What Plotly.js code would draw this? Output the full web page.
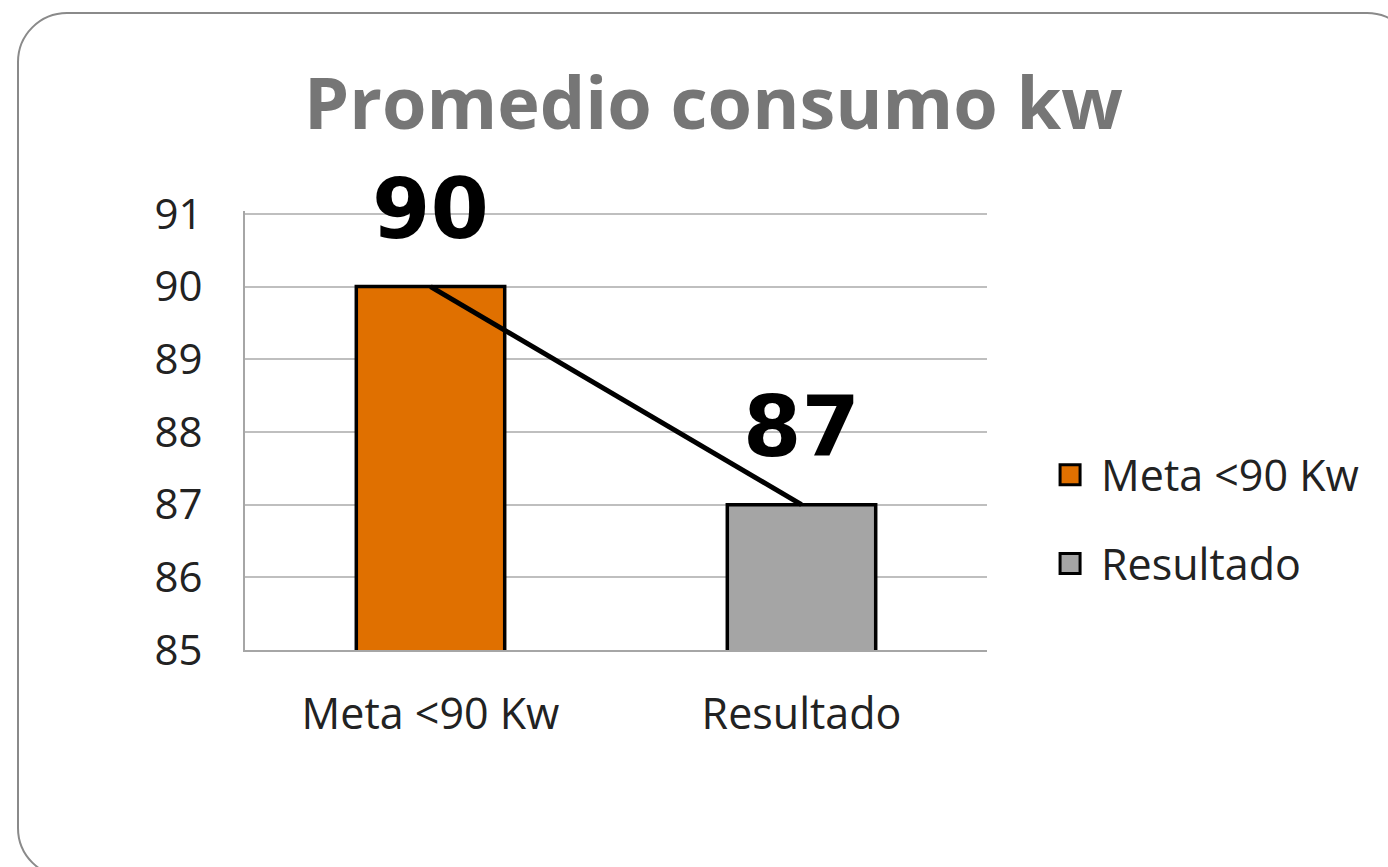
<!DOCTYPE html>
<html><head><meta charset="utf-8">
<script src="https://cdn.plot.ly/plotly-3.0.1.min.js"></script>
<style>
html,body{margin:0;padding:0;background:#fff;width:1388px;height:867px;overflow:hidden;}
#frame{position:absolute;left:17px;top:12px;width:1400px;height:866px;border:2px solid #8a8a8a;border-radius:50px;box-sizing:border-box;}
#chart{position:absolute;left:0;top:0;width:1388px;height:867px;}
</style></head><body>
<div id="frame"></div>
<div id="chart"></div>
<script>
const categories = ["Meta <90 Kw", "Resultado"];
const values = [90, 87];
const barColors = ["#E07000", "#A5A5A5"];
const yTicks = [85, 86, 87, 88, 89, 90, 91];

const traces = categories.map((c, i) => ({
  type: "bar", x: [c], y: [values[i]], name: c,
  marker: {color: barColors[i], line: {color: "#000", width: 3.5}},
  width: 0.4, legendgroup: "g" + i, hoverinfo: "skip"
}));
traces.push({
  type: "scatter", mode: "lines", x: categories, y: values,
  line: {color: "#000", width: 5}, showlegend: false, hoverinfo: "skip"
});

const annotations = categories.map((c, i) => ({
  x: c, y: values[i], xref: "x", yref: "y", text: String(values[i]),
  showarrow: false, yanchor: "middle", yshift: 78,
  font: {family: "DejaVu Sans", size: 84, color: "#000", weight: "bold"}
}));

const layout = {
  width: 1388, height: 867,
  paper_bgcolor: "rgba(0,0,0,0)", plot_bgcolor: "rgba(0,0,0,0)",
  margin: {l: 245, r: 401, t: 211, b: 217},
  title: {text: "<b>Promedio consumo kw</b>", x: 0.514, xref: "container", y: 0.88, yanchor: "middle",
          font: {family: "Open Sans", size: 72, color: "#767676"}},
  barmode: "overlay",
  xaxis: {type: "category", range: [-0.5, 1.5], showgrid: false, showline: true, linecolor: "#A6A6A6", linewidth: 2,
          ticks: "", ticklabelstandoff: 25, tickfont: {family: "Open Sans", size: 43, color: "#222"}, zeroline: false},
  yaxis: {range: [85, 91.04], tickvals: yTicks, showgrid: true, gridcolor: "#BFBFBF", gridwidth: 2,
          showline: true, linecolor: "#A6A6A6", linewidth: 2, ticks: "", ticklabelstandoff: 32,
          tickfont: {family: "Open Sans", size: 42, color: "#222"}, zeroline: false},
  showlegend: true,
  legend: {x: 1.085, xanchor: "left", y: 0.298, yanchor: "middle", traceorder: "grouped", tracegroupgap: 30,
           font: {family: "Open Sans", size: 43, color: "#222"}, bgcolor: "rgba(0,0,0,0)", itemwidth: 30},
  annotations: annotations
};
Plotly.newPlot("chart", traces, layout, {displayModeBar: false, staticPlot: true}).then(() => {
  document.querySelectorAll("#chart .legend [clip-path]").forEach(el => el.removeAttribute("clip-path"));
  document.querySelectorAll("#chart .legend .legendpoints path").forEach(p => {
    p.setAttribute("d", "M10,10H-10V-10H10Z");
    p.style.strokeWidth = "3px";
  });
  document.querySelectorAll("#chart .legend .legendtext").forEach(t => {
    t.setAttribute("x", parseFloat(t.getAttribute("x") || 0) + 11);
  });
});
</script></body></html>
